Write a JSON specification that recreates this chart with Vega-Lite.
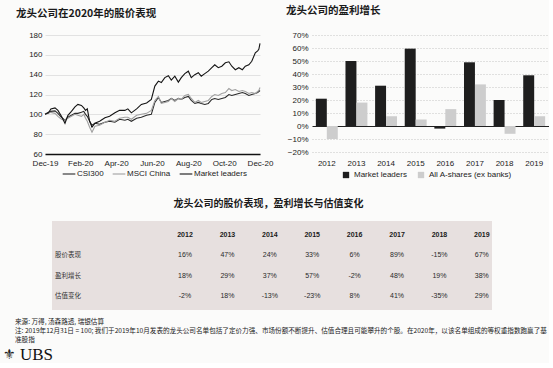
{
"$schema":"https://vega.github.io/schema/vega-lite/v6.json",
"background":"#fbfbfa",
"padding":{"left":2,"top":5,"right":0,"bottom":0},
"config":{
 "font":"Liberation Sans",
 "view":{"stroke":null},
 "axis":{"labelColor":"#222","labelFontSize":8,"ticks":false,"title":null},
 "title":{"font":"Noto Sans CJK SC","fontWeight":"bold","color":"#1a1a1a"},
 "legend":{"labelFontSize":8,"labelColor":"#222"}
},
"datasets":{
 "tbl":[
  {"r":"h","y":2012,"t":"2012"},{"r":"h","y":2013,"t":"2013"},{"r":"h","y":2014,"t":"2014"},{"r":"h","y":2015,"t":"2015"},{"r":"h","y":2016,"t":"2016"},{"r":"h","y":2017,"t":"2017"},{"r":"h","y":2018,"t":"2018"},{"r":"h","y":2019,"t":"2019"},
  {"r":"股价表现","y":2012,"t":"16%"},{"r":"股价表现","y":2013,"t":"47%"},{"r":"股价表现","y":2014,"t":"24%"},{"r":"股价表现","y":2015,"t":"33%"},{"r":"股价表现","y":2016,"t":"6%"},{"r":"股价表现","y":2017,"t":"89%"},{"r":"股价表现","y":2018,"t":"-15%"},{"r":"股价表现","y":2019,"t":"67%"},
  {"r":"盈利增长","y":2012,"t":"18%"},{"r":"盈利增长","y":2013,"t":"29%"},{"r":"盈利增长","y":2014,"t":"37%"},{"r":"盈利增长","y":2015,"t":"57%"},{"r":"盈利增长","y":2016,"t":"-2%"},{"r":"盈利增长","y":2017,"t":"48%"},{"r":"盈利增长","y":2018,"t":"19%"},{"r":"盈利增长","y":2019,"t":"38%"},
  {"r":"估值变化","y":2012,"t":"-2%"},{"r":"估值变化","y":2013,"t":"18%"},{"r":"估值变化","y":2014,"t":"-13%"},{"r":"估值变化","y":2015,"t":"-23%"},{"r":"估值变化","y":2016,"t":"8%"},{"r":"估值变化","y":2017,"t":"41%"},{"r":"估值变化","y":2018,"t":"-35%"},{"r":"估值变化","y":2019,"t":"29%"}
 ]
},
"spacing":20,
"resolve":{"scale":{"color":"independent","strokeWidth":"independent"},"legend":{"color":"independent"}},
"vconcat":[
 {"hconcat":[
  {
   "width":215,"height":119,
   "title":{"text":"龙头公司在2020年的股价表现","fontSize":10.5,"anchor":"start","frame":"group","dx":-29,"offset":12},
   "data":{"values":[
{"d":"2019-12-31","s":"CSI300","v":100},{"d":"2019-12-31","s":"MSCI China","v":100},{"d":"2019-12-31","s":"Market leaders","v":100},
{"d":"2020-01-06","s":"CSI300","v":102},{"d":"2020-01-06","s":"MSCI China","v":101},{"d":"2020-01-06","s":"Market leaders","v":101.5},
{"d":"2020-01-10","s":"CSI300","v":103},{"d":"2020-01-10","s":"MSCI China","v":102},{"d":"2020-01-10","s":"Market leaders","v":105.5},
{"d":"2020-01-17","s":"CSI300","v":103.5},{"d":"2020-01-17","s":"MSCI China","v":101},{"d":"2020-01-17","s":"Market leaders","v":106.5},
{"d":"2020-01-22","s":"CSI300","v":101},{"d":"2020-01-22","s":"MSCI China","v":98},{"d":"2020-01-22","s":"Market leaders","v":104},
{"d":"2020-01-28","s":"CSI300","v":97},{"d":"2020-01-28","s":"MSCI China","v":95},{"d":"2020-01-28","s":"Market leaders","v":98},
{"d":"2020-02-03","s":"CSI300","v":94},{"d":"2020-02-03","s":"MSCI China","v":94},{"d":"2020-02-03","s":"Market leaders","v":91},
{"d":"2020-02-08","s":"CSI300","v":97},{"d":"2020-02-08","s":"MSCI China","v":96},{"d":"2020-02-08","s":"Market leaders","v":99},
{"d":"2020-02-14","s":"CSI300","v":99},{"d":"2020-02-14","s":"MSCI China","v":98},{"d":"2020-02-14","s":"Market leaders","v":103},
{"d":"2020-02-20","s":"CSI300","v":101},{"d":"2020-02-20","s":"MSCI China","v":100},{"d":"2020-02-20","s":"Market leaders","v":107.5},
{"d":"2020-02-25","s":"CSI300","v":101},{"d":"2020-02-25","s":"MSCI China","v":99},{"d":"2020-02-25","s":"Market leaders","v":110},
{"d":"2020-03-02","s":"CSI300","v":102},{"d":"2020-03-02","s":"MSCI China","v":98},{"d":"2020-03-02","s":"Market leaders","v":109},
{"d":"2020-03-06","s":"CSI300","v":103},{"d":"2020-03-06","s":"MSCI China","v":100},{"d":"2020-03-06","s":"Market leaders","v":106.5},
{"d":"2020-03-09","s":"CSI300","v":100},{"d":"2020-03-09","s":"MSCI China","v":96},{"d":"2020-03-09","s":"Market leaders","v":104},
{"d":"2020-03-12","s":"CSI300","v":98},{"d":"2020-03-12","s":"MSCI China","v":93},{"d":"2020-03-12","s":"Market leaders","v":105.5},
{"d":"2020-03-16","s":"CSI300","v":93},{"d":"2020-03-16","s":"MSCI China","v":87},{"d":"2020-03-16","s":"Market leaders","v":93},
{"d":"2020-03-20","s":"CSI300","v":89},{"d":"2020-03-20","s":"MSCI China","v":82},{"d":"2020-03-20","s":"Market leaders","v":87},
{"d":"2020-03-25","s":"CSI300","v":91},{"d":"2020-03-25","s":"MSCI China","v":88},{"d":"2020-03-25","s":"Market leaders","v":91},
{"d":"2020-04-02","s":"CSI300","v":90},{"d":"2020-04-02","s":"MSCI China","v":89},{"d":"2020-04-02","s":"Market leaders","v":93},
{"d":"2020-04-11","s":"CSI300","v":92},{"d":"2020-04-11","s":"MSCI China","v":92},{"d":"2020-04-11","s":"Market leaders","v":96.5},
{"d":"2020-04-19","s":"CSI300","v":93},{"d":"2020-04-19","s":"MSCI China","v":94},{"d":"2020-04-19","s":"Market leaders","v":98},
{"d":"2020-04-28","s":"CSI300","v":92},{"d":"2020-04-28","s":"MSCI China","v":93},{"d":"2020-04-28","s":"Market leaders","v":101.5},
{"d":"2020-05-06","s":"CSI300","v":95},{"d":"2020-05-06","s":"MSCI China","v":96},{"d":"2020-05-06","s":"Market leaders","v":104},
{"d":"2020-05-15","s":"CSI300","v":94},{"d":"2020-05-15","s":"MSCI China","v":97},{"d":"2020-05-15","s":"Market leaders","v":104},
{"d":"2020-05-20","s":"CSI300","v":95},{"d":"2020-05-20","s":"MSCI China","v":97},{"d":"2020-05-20","s":"Market leaders","v":105.5},
{"d":"2020-05-26","s":"CSI300","v":93},{"d":"2020-05-26","s":"MSCI China","v":95},{"d":"2020-05-26","s":"Market leaders","v":101.5},
{"d":"2020-06-04","s":"CSI300","v":96},{"d":"2020-06-04","s":"MSCI China","v":99},{"d":"2020-06-04","s":"Market leaders","v":105.5},
{"d":"2020-06-12","s":"CSI300","v":97},{"d":"2020-06-12","s":"MSCI China","v":100},{"d":"2020-06-12","s":"Market leaders","v":110},
{"d":"2020-06-21","s":"CSI300","v":99},{"d":"2020-06-21","s":"MSCI China","v":101},{"d":"2020-06-21","s":"Market leaders","v":111.5},
{"d":"2020-06-29","s":"CSI300","v":100},{"d":"2020-06-29","s":"MSCI China","v":104},{"d":"2020-06-29","s":"Market leaders","v":115},
{"d":"2020-07-05","s":"CSI300","v":112},{"d":"2020-07-05","s":"MSCI China","v":114},{"d":"2020-07-05","s":"Market leaders","v":128.5},
{"d":"2020-07-11","s":"CSI300","v":117},{"d":"2020-07-11","s":"MSCI China","v":118},{"d":"2020-07-11","s":"Market leaders","v":133.5},
{"d":"2020-07-16","s":"CSI300","v":112},{"d":"2020-07-16","s":"MSCI China","v":111},{"d":"2020-07-16","s":"Market leaders","v":132},
{"d":"2020-07-22","s":"CSI300","v":113},{"d":"2020-07-22","s":"MSCI China","v":112},{"d":"2020-07-22","s":"Market leaders","v":137},
{"d":"2020-07-28","s":"CSI300","v":114},{"d":"2020-07-28","s":"MSCI China","v":113},{"d":"2020-07-28","s":"Market leaders","v":139},
{"d":"2020-08-02","s":"CSI300","v":116},{"d":"2020-08-02","s":"MSCI China","v":116},{"d":"2020-08-02","s":"Market leaders","v":134.5},
{"d":"2020-08-08","s":"CSI300","v":114},{"d":"2020-08-08","s":"MSCI China","v":113},{"d":"2020-08-08","s":"Market leaders","v":138.5},
{"d":"2020-08-14","s":"CSI300","v":116},{"d":"2020-08-14","s":"MSCI China","v":116},{"d":"2020-08-14","s":"Market leaders","v":132.5},
{"d":"2020-08-19","s":"CSI300","v":115},{"d":"2020-08-19","s":"MSCI China","v":115},{"d":"2020-08-19","s":"Market leaders","v":137},
{"d":"2020-08-25","s":"CSI300","v":117},{"d":"2020-08-25","s":"MSCI China","v":119},{"d":"2020-08-25","s":"Market leaders","v":141},
{"d":"2020-08-31","s":"CSI300","v":118},{"d":"2020-08-31","s":"MSCI China","v":120},{"d":"2020-08-31","s":"Market leaders","v":143.5},
{"d":"2020-09-05","s":"CSI300","v":114},{"d":"2020-09-05","s":"MSCI China","v":116},{"d":"2020-09-05","s":"Market leaders","v":137},
{"d":"2020-09-11","s":"CSI300","v":111},{"d":"2020-09-11","s":"MSCI China","v":112},{"d":"2020-09-11","s":"Market leaders","v":140},
{"d":"2020-09-17","s":"CSI300","v":112},{"d":"2020-09-17","s":"MSCI China","v":114},{"d":"2020-09-17","s":"Market leaders","v":142},
{"d":"2020-09-22","s":"CSI300","v":111},{"d":"2020-09-22","s":"MSCI China","v":112},{"d":"2020-09-22","s":"Market leaders","v":138.5},
{"d":"2020-09-28","s":"CSI300","v":110},{"d":"2020-09-28","s":"MSCI China","v":113},{"d":"2020-09-28","s":"Market leaders","v":141},
{"d":"2020-10-04","s":"CSI300","v":111},{"d":"2020-10-04","s":"MSCI China","v":114},{"d":"2020-10-04","s":"Market leaders","v":143.5},
{"d":"2020-10-10","s":"CSI300","v":115},{"d":"2020-10-10","s":"MSCI China","v":118},{"d":"2020-10-10","s":"Market leaders","v":147},
{"d":"2020-10-15","s":"CSI300","v":116},{"d":"2020-10-15","s":"MSCI China","v":120},{"d":"2020-10-15","s":"Market leaders","v":150},
{"d":"2020-10-21","s":"CSI300","v":115},{"d":"2020-10-21","s":"MSCI China","v":119},{"d":"2020-10-21","s":"Market leaders","v":147},
{"d":"2020-10-27","s":"CSI300","v":116},{"d":"2020-10-27","s":"MSCI China","v":121},{"d":"2020-10-27","s":"Market leaders","v":148.5},
{"d":"2020-11-02","s":"CSI300","v":117},{"d":"2020-11-02","s":"MSCI China","v":122},{"d":"2020-11-02","s":"Market leaders","v":152},
{"d":"2020-11-08","s":"CSI300","v":120},{"d":"2020-11-08","s":"MSCI China","v":126},{"d":"2020-11-08","s":"Market leaders","v":153},
{"d":"2020-11-13","s":"CSI300","v":119},{"d":"2020-11-13","s":"MSCI China","v":124},{"d":"2020-11-13","s":"Market leaders","v":148.5},
{"d":"2020-11-19","s":"CSI300","v":120},{"d":"2020-11-19","s":"MSCI China","v":125},{"d":"2020-11-19","s":"Market leaders","v":145},
{"d":"2020-11-25","s":"CSI300","v":121},{"d":"2020-11-25","s":"MSCI China","v":123},{"d":"2020-11-25","s":"Market leaders","v":147},
{"d":"2020-12-01","s":"CSI300","v":122},{"d":"2020-12-01","s":"MSCI China","v":124},{"d":"2020-12-01","s":"Market leaders","v":145},
{"d":"2020-12-06","s":"CSI300","v":121},{"d":"2020-12-06","s":"MSCI China","v":123},{"d":"2020-12-06","s":"Market leaders","v":148.5},
{"d":"2020-12-12","s":"CSI300","v":119},{"d":"2020-12-12","s":"MSCI China","v":121},{"d":"2020-12-12","s":"Market leaders","v":150},
{"d":"2020-12-17","s":"CSI300","v":120},{"d":"2020-12-17","s":"MSCI China","v":122},{"d":"2020-12-17","s":"Market leaders","v":153.5},
{"d":"2020-12-23","s":"CSI300","v":121},{"d":"2020-12-23","s":"MSCI China","v":121},{"d":"2020-12-23","s":"Market leaders","v":162},
{"d":"2020-12-27","s":"CSI300","v":122},{"d":"2020-12-27","s":"MSCI China","v":123},{"d":"2020-12-27","s":"Market leaders","v":164},
{"d":"2020-12-29","s":"CSI300","v":123},{"d":"2020-12-29","s":"MSCI China","v":124},{"d":"2020-12-29","s":"Market leaders","v":165.5},
{"d":"2020-12-31","s":"CSI300","v":124},{"d":"2020-12-31","s":"MSCI China","v":127},{"d":"2020-12-31","s":"Market leaders","v":171.5}
   ]},
   "mark":{"type":"line"},
   "encoding":{
    "x":{"field":"d","type":"temporal","scale":{"type":"utc","domain":[{"year":2019,"month":12,"date":31,"utc":true},{"year":2020,"month":12,"date":31,"utc":true}]},
         "axis":{"values":[{"year":2019,"month":12,"date":31,"utc":true},{"year":2020,"month":2,"date":29,"utc":true},{"year":2020,"month":4,"date":30,"utc":true},{"year":2020,"month":6,"date":30,"utc":true},{"year":2020,"month":8,"date":31,"utc":true},{"year":2020,"month":10,"date":31,"utc":true},{"year":2020,"month":12,"date":31,"utc":true}],
                 "format":"%b-%y","labelFlush":false,"grid":false,"domainColor":"#111","domainWidth":1.5,"labelPadding":5}},
    "y":{"field":"v","type":"quantitative","scale":{"domain":[60,180],"nice":false,"zero":false},
         "axis":{"values":[60,80,100,120,140,160,180],"domain":false,"gridColor":"#e2e2e2","labelPadding":3,"minExtent":43}},
    "color":{"field":"s","type":"nominal","scale":{"domain":["CSI300","MSCI China","Market leaders"],"range":["#2a2a2a","#a0a0a0","#141414"]},
             "legend":{"orient":"none","legendX":17,"legendY":132,"direction":"horizontal","title":null,"symbolType":"stroke","symbolSize":160,"symbolStrokeWidth":1.6,"columnPadding":6,"labelOffset":1}},
    "strokeWidth":{"field":"s","type":"nominal","scale":{"domain":["CSI300","MSCI China","Market leaders"],"range":[1.1,1.1,1.6]},"legend":null}
   }
  },
  {
   "width":237,"height":117,
   "title":{"text":"龙头公司的盈利增长","fontSize":10.5,"anchor":"start","frame":"group","dx":-26,"offset":15},
   "data":{"values":[
      {"year":"2012","s":"Market leaders","v":0.21},{"year":"2012","s":"All A-shares (ex banks)","v":-0.10},
      {"year":"2013","s":"Market leaders","v":0.50},{"year":"2013","s":"All A-shares (ex banks)","v":0.18},
      {"year":"2014","s":"Market leaders","v":0.31},{"year":"2014","s":"All A-shares (ex banks)","v":0.075},
      {"year":"2015","s":"Market leaders","v":0.595},{"year":"2015","s":"All A-shares (ex banks)","v":0.05},
      {"year":"2016","s":"Market leaders","v":-0.02},{"year":"2016","s":"All A-shares (ex banks)","v":0.13},
      {"year":"2017","s":"Market leaders","v":0.49},{"year":"2017","s":"All A-shares (ex banks)","v":0.32},
      {"year":"2018","s":"Market leaders","v":0.20},{"year":"2018","s":"All A-shares (ex banks)","v":-0.06},
      {"year":"2019","s":"Market leaders","v":0.39},{"year":"2019","s":"All A-shares (ex banks)","v":0.075}
   ]},
   "mark":{"type":"bar"},
   "encoding":{
    "x":{"field":"year","type":"ordinal","scale":{"paddingInner":0.26,"paddingOuter":0.13},"axis":{"labelAngle":0,"domain":false,"labelPadding":7,"grid":false}},
    "xOffset":{"field":"s","type":"nominal","scale":{"domain":["Market leaders","All A-shares (ex banks)"]}},
    "y":{"field":"v","type":"quantitative","scale":{"domain":[-0.2,0.7],"nice":false,"zero":true},
         "axis":{"values":[-0.2,-0.1,0,0.1,0.2,0.3,0.4,0.5,0.6,0.7],"format":".0%","labelOverlap":false,"domain":false,
                 "gridColor":{"condition":{"test":"datum.value === 0","value":"#222"},"value":"#c4c4c4"},
                 "gridDash":{"condition":{"test":"datum.value === 0","value":[]},"value":[1,2]},
                 "labelPadding":4}},
    "color":{"field":"s","type":"nominal","scale":{"domain":["Market leaders","All A-shares (ex banks)"],"range":["#1e1e1e","#cdcdcd"]},
             "legend":{"orient":"none","legendX":30,"legendY":136,"direction":"horizontal","title":null,"symbolType":"square","symbolSize":40,"columnPadding":10}}
   }
  }
 ],"spacing":13,
 "resolve":{"scale":{"color":"independent","strokeWidth":"independent"},"legend":{"color":"independent"}}},
 {"vconcat":[
  {
   "width":447,"height":89,
   "title":{"text":"龙头公司的股价表现，盈利增长与估值变化","fontSize":10,"anchor":"middle","frame":"group","dx":0,"offset":12},
   "layer":[
    {"data":{"values":[{}]},"mark":{"type":"rect","color":"#e7e0df"},
     "encoding":{"x":{"datum":2008.863,"type":"quantitative","scale":{"domain":[2008.698,2019.24],"nice":false,"zero":false},"axis":null},"x2":{"datum":2019.24}}},
    {"data":{"name":"tbl"},"transform":[{"filter":"datum.r === 'h'"}],
     "mark":{"type":"text","fontSize":7,"fontWeight":"bold","color":"#1a1a1a"},
     "encoding":{"x":{"field":"y","type":"quantitative","scale":{"domain":[2008.698,2019.24],"nice":false,"zero":false},"axis":null},
                 "y":{"field":"r","type":"ordinal","scale":{"type":"point","domain":["h","股价表现","盈利增长","估值变化"],"padding":0.66},"axis":null},
                 "text":{"field":"t"}}},
    {"data":{"name":"tbl"},"transform":[{"filter":"datum.r !== 'h'"}],
     "mark":{"type":"text","fontSize":7,"color":"#2a2a2a"},
     "encoding":{"x":{"field":"y","type":"quantitative"},
                 "y":{"field":"r","type":"ordinal"},
                 "text":{"field":"t"}}},
    {"data":{"values":[{"r":"股价表现"},{"r":"盈利增长"},{"r":"估值变化"}]},
     "mark":{"type":"text","align":"left","font":"Noto Sans CJK SC","fontSize":6.5,"color":"#333"},
     "encoding":{"x":{"datum":2008.934,"type":"quantitative"},"y":{"field":"r","type":"ordinal"},"text":{"field":"r"}}}
   ]
  },
  {
   "width":500,"height":44,
   "layer":[
    {"data":{"values":[{"n":1,"t":"来源: 万得, 汤森路透, 瑞银估算"},{"n":2,"t":"注: 2019年12月31日 = 100; 我们于2019年10月发表的龙头公司名单包括了定价力强、市场份额不断提升、估值合理且可能攀升的个股。在2020年，以该名单组成的等权重指数跑赢了基"},{"n":3,"t":"准股指"}]},
     "mark":{"type":"text","align":"left","baseline":"middle","font":"Noto Sans CJK SC","fontSize":6.6,"color":"#1a1a1a"},
     "encoding":{"x":{"datum":-30,"type":"quantitative","scale":{"domain":[0,500],"nice":false,"zero":false},"axis":null},
                 "y":{"field":"n","type":"ordinal","scale":{"type":"point","domain":[1,2,3,4,5],"padding":0.5},"axis":null},
                 "text":{"field":"t"}}},
    {"data":{"values":[{"n":5,"t":"UBS"}]},
     "mark":{"type":"text","align":"left","baseline":"middle","font":"Liberation Serif","fontSize":17,"dy":-3,"color":"#111"},
     "encoding":{"x":{"datum":-25,"type":"quantitative"},"y":{"field":"n","type":"ordinal"},"text":{"field":"t"}}},
    {"data":{"values":[{"n":5,"t":"⚜"}]},
     "mark":{"type":"text","align":"left","baseline":"middle","font":"DejaVu Sans","fontSize":14,"dy":-3,"color":"#222"},
     "encoding":{"x":{"datum":-42,"type":"quantitative"},"y":{"field":"n","type":"ordinal"},"text":{"field":"t"}}}
   ]
  }
 ],"spacing":8}
]
}
